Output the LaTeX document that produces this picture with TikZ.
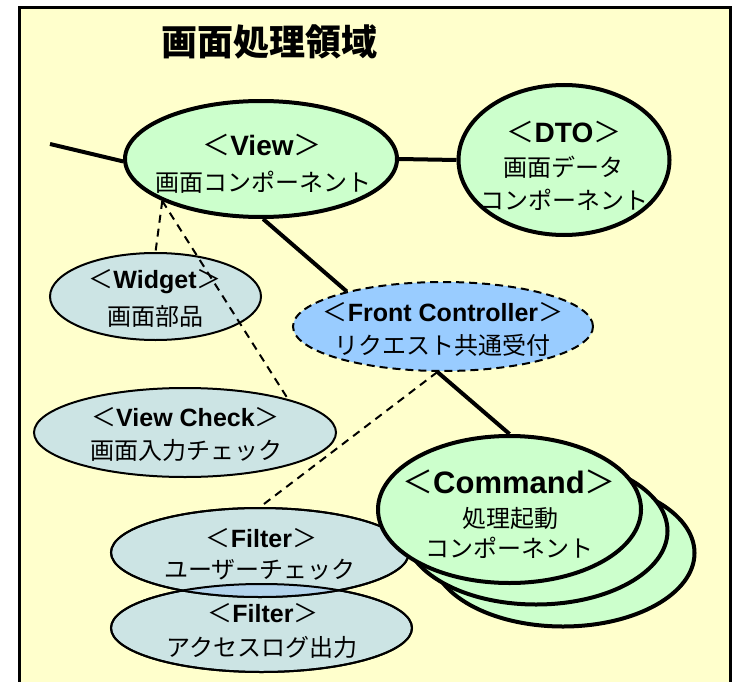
\documentclass[tikz,border=0pt]{standalone}
\usepackage{fontspec}
\setmainfont{Liberation Sans}
\newfontfamily\jp{Noto Sans CJK JP}
\usetikzlibrary{shapes.geometric}

\definecolor{paper}{HTML}{FFFFCC}
\definecolor{mint}{HTML}{CCFFCC}
\definecolor{pale}{HTML}{CCE4E4}
\definecolor{sky}{HTML}{99CCFF}
\definecolor{overlapblue}{HTML}{B4D4EC}

% stereotype label: full-width angle brackets around a bold name
\newcommand\stereo[1]{{\jp ＜}\textbf{#1}{\jp ＞}}

\tikzset{
  mainell/.style={ellipse, draw=black, line width=4pt, fill=mint, inner sep=0pt},
  partell/.style={ellipse, draw=black, line width=2pt, fill=pale, inner sep=0pt},
  ctrlell/.style={ellipse, draw=black, line width=2pt, fill=sky, inner sep=0pt,
                  dash pattern=on 8pt off 5pt},
  heavyline/.style={line width=4pt},
  uselink/.style={line width=2pt, dash pattern=on 8pt off 6pt},
  namebig/.style={inner sep=0pt, font=\fontsize{28}{32}\selectfont},
  namemid/.style={inner sep=0pt, font=\fontsize{25}{30}\selectfont},
  namecmd/.style={inner sep=0pt, font=\fontsize{31}{36}\selectfont},
  jptext/.style={inner sep=0pt, font=\jp\fontsize{24}{28}\selectfont},
}

\begin{document}
\begin{tikzpicture}[x=1pt, y=-1pt]
\useasboundingbox (0,0) rectangle (733,682);

% region frame
\fill[paper] (19.5,8) rectangle (730.5,682);
\draw[line width=3pt] (19.5,682) -- (19.5,8) -- (730.5,8) -- (730.5,682);

\node[inner sep=0pt, font=\jp\bfseries\fontsize{36}{42}\selectfont] (title) at (269,42) {画面処理領域};

% screen-side components
\node[mainell, minimum width=272pt, minimum height=116pt] (view) at (261,159) {};
\node[mainell, minimum width=211pt, minimum height=150pt] (dto) at (564,160) {};
\node[partell, minimum width=211pt, minimum height=87pt] (widget) at (155.5,296.5) {};
\node[partell, minimum width=302pt, minimum height=89pt] (vcheck) at (185,432.5) {};
\node[ctrlell, minimum width=300pt, minimum height=89pt] (fc) at (443,326.5) {};

% filters, with their overlap tinted
\node[partell, minimum width=301pt, minimum height=88pt] (filter2) at (261.5,628) {};
\node[partell, minimum width=298pt, minimum height=89pt] (filter1) at (260,552.5) {};
\begin{scope}
  \clip (filter1.center) ellipse [x radius=149, y radius=44.5];
  \fill[overlapblue] (filter2.center) ellipse [x radius=150.5, y radius=44];
\end{scope}
\draw[line width=2pt] (filter1.center) ellipse [x radius=149, y radius=44.5];
\draw[line width=2pt] (filter2.center) ellipse [x radius=150.5, y radius=44];

% command stack
\node[mainell, minimum width=263pt, minimum height=147pt] (cmd3) at (563,553) {};
\node[mainell, minimum width=263pt, minimum height=147pt] (cmd2) at (536,531) {};
\node[mainell, minimum width=263pt, minimum height=147pt] (cmd) at (509.5,509.5) {};

% labels
\node[namebig] (viewa) at (262,145) {\stereo{View}};
\node[jptext] (viewb) at (263,182) {画面コンポーネント};
\node[namebig] (dtoa) at (564,132) {\stereo{DTO}};
\node[jptext] (dtob) at (563,167) {画面データ};
\node[jptext] (dtoc) at (564,200) {コンポーネント};
\node[namemid] (widgeta) at (155,282) {\stereo{Widget}};
\node[jptext] (widgetb) at (155,316) {画面部品};
\node[namemid] (vchecka) at (185.5,417) {\stereo{View Check}};
\node[jptext] (vcheckb) at (186,450) {画面入力チェック};
\node[namemid] (fca) at (443,312) {\stereo{Front Controller}};
\node[jptext] (fcb) at (442.5,345) {リクエスト共通受付};
\node[namecmd] (cmda) at (509,482) {\stereo{Command}};
\node[jptext] (cmdb) at (510,518) {処理起動};
\node[jptext] (cmdc) at (509,548) {コンポーネント};
\node[namemid] (filter1a) at (261.5,538) {\stereo{Filter}};
\node[jptext] (filter1b) at (260,570) {ユーザーチェック};
\node[namemid] (filter2a) at (263,613) {\stereo{Filter}};
\node[jptext] (filter2b) at (262,647) {アクセスログ出力};

% connectors
\coordinate (lend) at (50,144);
\draw[heavyline] (lend) -- (view.181);
\draw[heavyline] (view.east) -- (dto.west);
\draw[heavyline] (view.-88) -- (fc.160);
\draw[heavyline] (fc.-97) -- (cmd.north);
\draw[uselink] (view.203) -- (widget.north);
\draw[uselink] (view.203) -- (vcheck.18);
\draw[uselink] (fc.-97) -- (filter1.north);
\end{tikzpicture}
\end{document}
